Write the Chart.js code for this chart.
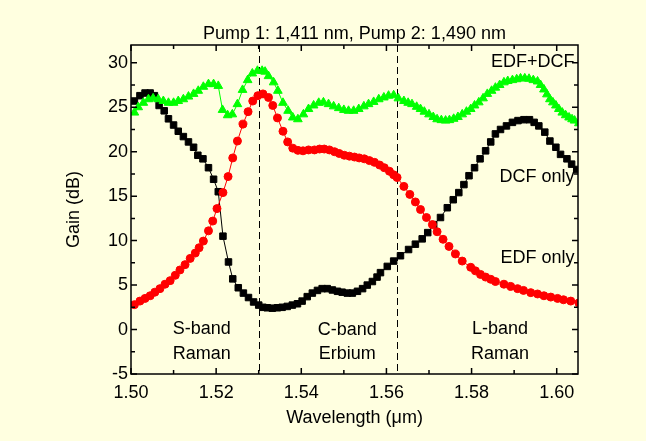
<!DOCTYPE html>
<html>
<head>
<meta charset="utf-8">
<script src="https://cdn.jsdelivr.net/npm/chart.js@4/dist/chart.umd.min.js"></script>
<style>
body { margin: 0; background: #ffffe0; }
canvas { display: block; }
</style>
</head>
<body>
<canvas id="gain" width="646" height="441"></canvas>
<script>
var chartTitle = 'Pump 1: 1,411 nm, Pump 2: 1,490 nm'

// DCF only (black squares)
var dcfWl = [1.5008, 1.5021, 1.5033, 1.5045, 1.5055, 1.5066, 1.5078, 1.5088, 1.5100, 1.5111, 1.5123, 1.5135,
    1.5147, 1.5157, 1.5169, 1.5182, 1.5194, 1.5205, 1.5216, 1.5229, 1.5239, 1.5252, 1.5264, 1.5276, 1.5288,
    1.5300, 1.5310, 1.5320, 1.5332, 1.5344, 1.5355, 1.5367, 1.5379, 1.5391, 1.5402, 1.5414, 1.5426, 1.5438,
    1.5449, 1.5461, 1.5473, 1.5485, 1.5496, 1.5508, 1.5520, 1.5532, 1.5544, 1.5555, 1.5567, 1.5578, 1.5586,
    1.5602, 1.5617, 1.5633, 1.5652, 1.5668, 1.5684, 1.5697, 1.5711, 1.5727, 1.5743, 1.5757, 1.5770, 1.5782,
    1.5794, 1.5807, 1.5820, 1.5833, 1.5845, 1.5856, 1.5868, 1.5882, 1.5896, 1.5909, 1.5923, 1.5936, 1.5947,
    1.5958, 1.5972, 1.5984, 1.5998, 1.6009, 1.6024, 1.6035, 1.6047]
var dcfGain = [25.7, 26.3, 26.6, 26.6, 26.3, 25.2, 24.6, 23.7, 23.0, 22.3, 21.7, 21.1,
    20.5, 19.6, 19.2, 18.2, 16.9, 15.5, 10.5, 7.6, 5.7, 4.7, 4.1, 3.6, 3.1,
    2.75, 2.5, 2.45, 2.4, 2.45, 2.5, 2.6, 2.75, 2.9, 3.2, 3.7, 4.1, 4.4,
    4.6, 4.6, 4.45, 4.3, 4.2, 4.1, 4.1, 4.3, 4.6, 5.0, 5.4, 5.9, 6.4,
    7.1, 7.7, 8.3, 9.0, 9.6, 10.2, 10.9, 11.8, 12.6, 13.7, 14.6, 15.4, 16.3,
    17.3, 18.2, 19.2, 20.1, 21.1, 22.0, 22.5, 22.9, 23.3, 23.5, 23.6, 23.6, 23.3,
    22.9, 22.2, 21.2, 20.5, 19.7, 19.2, 18.6, 18.0]

// EDF only (red circles)
var edfWl = [1.5008, 1.5021, 1.5033, 1.5045, 1.5056, 1.5068, 1.5080, 1.5092, 1.5104, 1.5115, 1.5127, 1.5139,
    1.5151, 1.5160, 1.5170, 1.5182, 1.5192, 1.5202, 1.5216, 1.5228, 1.5239, 1.5250, 1.5263, 1.5275, 1.5286,
    1.5298, 1.5310, 1.5323, 1.5333, 1.5344, 1.5357, 1.5368, 1.5380, 1.5392, 1.5404, 1.5417, 1.5431, 1.5443,
    1.5454, 1.5466, 1.5478, 1.5489, 1.5501, 1.5513, 1.5525, 1.5536, 1.5548, 1.5560, 1.5572, 1.5584, 1.5595,
    1.5607, 1.5617, 1.5625, 1.5641, 1.5655, 1.5668, 1.5680, 1.5694, 1.5708, 1.5719, 1.5733, 1.5747, 1.5762,
    1.5778, 1.5798, 1.5809, 1.5821, 1.5833, 1.5845, 1.5856, 1.5876, 1.5892, 1.5908, 1.5922, 1.5939, 1.5955,
    1.5970, 1.5986, 1.6002, 1.6016, 1.6033, 1.6052]
var edfGain = [2.8, 3.2, 3.5, 3.8, 4.2, 4.6, 5.1, 5.5, 6.1, 6.7, 7.3, 8.0,
    8.6, 9.2, 9.95, 11.1, 12.2, 13.6, 15.4, 17.2, 19.3, 21.2, 23.1, 24.5, 25.7,
    26.3, 26.5, 26.1, 25.2, 23.8, 22.3, 21.1, 20.4, 20.15, 20.1, 20.2, 20.2, 20.3,
    20.3, 20.2, 20.0, 19.8, 19.6, 19.5, 19.4, 19.3, 19.2, 19.0, 18.8, 18.5, 18.2,
    17.8, 17.4, 17.1, 16.1, 15.2, 14.35, 13.5, 12.6, 11.8, 11.0, 10.15, 9.35, 8.5,
    7.7, 7.0, 6.6, 6.2, 5.9, 5.65, 5.4, 5.1, 4.85, 4.6, 4.4, 4.15, 4.0,
    3.8, 3.65, 3.5, 3.35, 3.2, 3.0]

// EDF+DCF (green triangles)
var bothWl = [1.5008, 1.5017, 1.5029, 1.5041, 1.5052, 1.5064, 1.5076, 1.5088, 1.5100, 1.5111, 1.5123, 1.5135,
    1.5147, 1.5158, 1.5170, 1.5182, 1.5194, 1.5205, 1.5215, 1.5227, 1.5238, 1.5250, 1.5262, 1.5274, 1.5285,
    1.5297, 1.5308, 1.5315, 1.5323, 1.5335, 1.5345, 1.5357, 1.5369, 1.5380, 1.5392, 1.5405, 1.5417, 1.5429,
    1.5441, 1.5452, 1.5464, 1.5476, 1.5488, 1.5500, 1.5511, 1.5523, 1.5535, 1.5547, 1.5558, 1.5570, 1.5582,
    1.5594, 1.5605, 1.5617, 1.5628, 1.5641, 1.5651, 1.5660, 1.5671, 1.5680, 1.5689, 1.5700, 1.5710, 1.5719,
    1.5729, 1.5739, 1.5748, 1.5758, 1.5768, 1.5778, 1.5788, 1.5798, 1.5807, 1.5817, 1.5827, 1.5837, 1.5847,
    1.5856, 1.5866, 1.5876, 1.5885, 1.5896, 1.5906, 1.5915, 1.5925, 1.5935, 1.5945, 1.5955, 1.5962, 1.5970,
    1.5977, 1.5984, 1.5991, 1.5998, 1.6005, 1.6013, 1.6021, 1.6029, 1.6036, 1.6042, 1.6052]
var bothGain = [24.4, 25.0, 25.5, 25.9, 26.0, 25.9, 25.7, 25.5, 25.5, 25.7, 25.9, 26.2,
    26.5, 26.85, 27.3, 27.6, 27.6, 27.4, 24.7, 24.1, 24.2, 25.35, 26.95, 28.05, 28.8,
    29.1, 29.1, 29.0, 28.5, 27.8, 26.85, 25.5, 24.6, 23.85, 23.65, 24.2, 24.8, 25.2,
    25.5, 25.55, 25.35, 25.1, 24.9, 24.7, 24.6, 24.6, 24.8, 25.1, 25.35, 25.6, 25.9,
    26.1, 26.3, 26.35, 26.0, 25.7, 25.5, 25.35, 25.05, 24.8, 24.5, 24.2, 23.9, 23.65,
    23.55, 23.5, 23.55, 23.7, 23.9, 24.2, 24.5, 24.8, 25.2, 25.55, 26.0, 26.5, 26.85,
    27.2, 27.5, 27.8, 27.95, 28.05, 28.15, 28.25, 28.25, 28.2, 28.05, 27.9, 27.5, 27.0,
    26.45, 25.9, 25.55, 25.2, 24.8, 24.4, 24.1, 23.85, 23.65, 23.5, 23.2]

var bandEdges = [1.530, 1.5625]
var notes = [
    { text: 'EDF+DCF', x: 1.6042, y: 30.1, align: 'right' },
    { text: 'DCF only', x: 1.6042, y: 17.2, align: 'right' },
    { text: 'EDF only', x: 1.6042, y: 8.0, align: 'right' },
    { text: 'S-band', x: 1.5166, y: 0.05, align: 'center' },
    { text: 'Raman', x: 1.5166, y: -2.7, align: 'center' },
    { text: 'C-band', x: 1.5508, y: 0.0, align: 'center' },
    { text: 'Erbium', x: 1.5508, y: -2.7, align: 'center' },
    { text: 'L-band', x: 1.5867, y: 0.05, align: 'center' },
    { text: 'Raman', x: 1.5867, y: -2.7, align: 'center' }
]

function pairs(xs, ys) {
    var out = []
    for (var i = 0; i < xs.length; i++) {
        out.push({ x: xs[i], y: ys[i] })
    }
    return out
}

var FONT = 'Arial, "Liberation Sans", sans-serif'
Chart.defaults.font.family = FONT
Chart.defaults.font.size = 18
Chart.defaults.color = '#000'

// dashed band edges, drawn under the data
var bandLines = {
    id: 'bandLines',
    beforeDatasetsDraw: function (chart) {
        var ctx = chart.ctx, a = chart.chartArea, x = chart.scales.x
        ctx.save()
        ctx.strokeStyle = '#000'
        ctx.lineWidth = 1
        ctx.setLineDash([7, 4])
        bandEdges.forEach(function (v) {
            var px = Math.round(x.getPixelForValue(v)) + 0.5
            ctx.beginPath()
            ctx.moveTo(px, a.top)
            ctx.lineTo(px, a.bottom)
            ctx.stroke()
        })
        ctx.restore()
    }
}

// frame, inward ticks on all four sides, title and text notes
var frame = {
    id: 'frame',
    afterDraw: function (chart) {
        var ctx = chart.ctx, a = chart.chartArea
        var x = chart.scales.x, y = chart.scales.y
        ctx.save()
        ctx.strokeStyle = '#000'
        ctx.lineWidth = 1.5
        ctx.beginPath()
        for (var i = 0; i <= 10; i++) {
            var px = x.getPixelForValue(1.5 + i * 0.01)
            var len = i % 2 === 0 ? 6 : 4
            ctx.moveTo(px, a.bottom); ctx.lineTo(px, a.bottom - len)
            ctx.moveTo(px, a.top); ctx.lineTo(px, a.top + len)
        }
        for (var j = 0; j <= 14; j++) {
            var py = y.getPixelForValue(-5 + j * 2.5)
            var l2 = j % 2 === 0 ? 6 : 4
            ctx.moveTo(a.left, py); ctx.lineTo(a.left + l2, py)
            ctx.moveTo(a.right, py); ctx.lineTo(a.right - l2, py)
        }
        ctx.stroke()
        ctx.strokeRect(a.left, a.top, a.right - a.left, a.bottom - a.top)

        ctx.fillStyle = '#000'
        ctx.font = '18px ' + FONT
        ctx.textBaseline = 'middle'
        ctx.textAlign = 'center'
        ctx.fillText(chartTitle, (a.left + a.right) / 2, a.top - 11)
        notes.forEach(function (n) {
            ctx.textAlign = n.align
            ctx.fillText(n.text, x.getPixelForValue(n.x), y.getPixelForValue(n.y))
        })
        ctx.restore()
    }
}

new Chart(document.getElementById('gain').getContext('2d'), {
    type: 'line',
    data: {
        datasets: [
            {
                label: 'EDF+DCF',
                data: pairs(bothWl, bothGain),
                borderColor: '#00ff00',
                borderWidth: 1,
                pointStyle: 'triangle',
                pointRadius: 5,
                pointBackgroundColor: '#00ff00',
                pointBorderColor: '#00ff00',
                pointBorderWidth: 1
            },
            {
                label: 'EDF only',
                data: pairs(edfWl, edfGain),
                borderColor: '#ff0000',
                borderWidth: 1,
                pointStyle: 'circle',
                pointRadius: 4,
                pointBackgroundColor: '#ff0000',
                pointBorderColor: '#ff0000',
                pointBorderWidth: 1
            },
            {
                label: 'DCF only',
                data: pairs(dcfWl, dcfGain),
                borderColor: '#000',
                borderWidth: 1,
                pointStyle: 'rect',
                pointRadius: 4.6,
                pointBackgroundColor: '#000',
                pointBorderColor: '#000',
                pointBorderWidth: 1
            }
        ]
    },
    options: {
        responsive: false,
        animation: false,
        layout: { padding: { left: 0, right: 68, top: 45, bottom: 0 } },
        plugins: {
            legend: { display: false },
            tooltip: { enabled: false },
            title: { display: false }
        },
        scales: {
            x: {
                type: 'linear',
                min: 1.5,
                max: 1.605,
                grid: { display: false, drawTicks: false },
                border: { display: false },
                ticks: {
                    stepSize: 0.02,
                    includeBounds: false,
                    padding: 8,
                    maxRotation: 0,
                    callback: function (v) { return v.toFixed(2) }
                },
                title: {
                    display: true,
                    text: 'Wavelength (\u03bcm)',
                    padding: { top: 0, bottom: 12 }
                },
                afterFit: function (s) { s.height = 67 }
            },
            y: {
                min: -5,
                max: 32,
                grid: { display: false, drawTicks: false },
                border: { display: false },
                ticks: { stepSize: 5, includeBounds: false, padding: 3 },
                title: {
                    display: true,
                    text: 'Gain (dB)',
                    padding: { top: 63, bottom: 0 }
                },
                afterFit: function (s) { s.width = 131 }
            }
        }
    },
    plugins: [bandLines, frame]
})
</script>
</body>
</html>
